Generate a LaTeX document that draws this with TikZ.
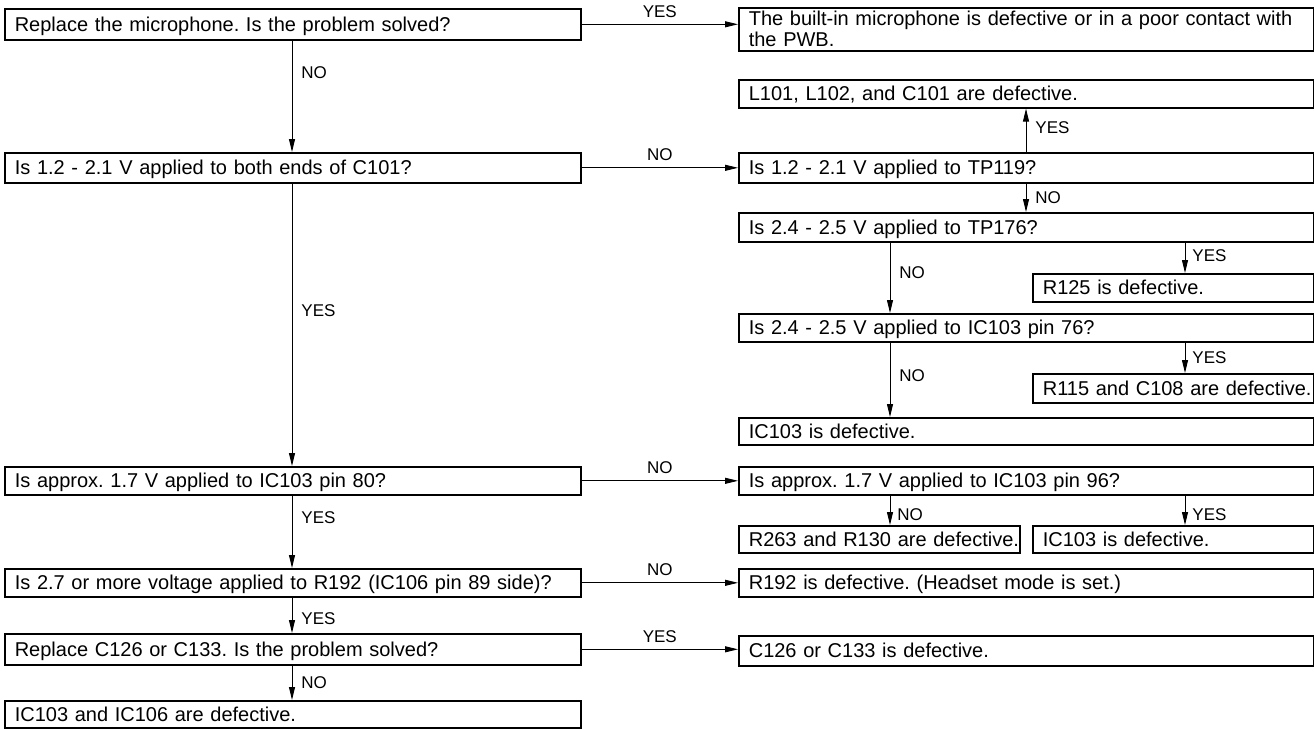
\documentclass[tikz,border=0pt]{standalone}
\usepackage{fontspec}
\setmainfont{Liberation Sans}
\usetikzlibrary{arrows.meta,calc}
\begin{document}
\frenchspacing
\begin{tikzpicture}[x=1pt,y=1pt,
  boxbase/.style={draw, line width=1.6pt, rectangle, anchor=north west, inner xsep=10pt, inner ysep=1pt, align=left, font=\fontsize{20}{21}\selectfont\frenchspacing},
  box/.style={boxbase, text height=14.3pt, text depth=0pt},
  arr/.style={line width=0.9pt, -{Triangle[length=13pt,width=6pt]}},
  lab/.style={font=\fontsize{17}{17}\selectfont, inner sep=0pt},
  vlab/.style={lab, anchor=west, xshift=9pt},
  hlab/.style={lab, midway, anchor=base, yshift=7pt},
]
\useasboundingbox (0,0) rectangle (1314,-728);

\coordinate (cL) at (292,0);
\coordinate (cR1) at (890,0);
\coordinate (cR2) at (1026,0);
\coordinate (cR3) at (1185,0);

% left column
\node[box, text width=556pt, minimum height=31pt] (q1) at (4,-8) {\mbox{Replace the microphone. Is the problem solved?}};
\node[box, text width=556pt, minimum height=30pt] (q2) at (4,-152) {\mbox{Is 1.2 - 2.1 V applied to both ends of C101?}};
\node[box, text width=556pt, minimum height=28pt] (q3) at (4,-466) {\mbox{Is approx. 1.7 V applied to IC103 pin 80?}};
\node[box, text width=556pt, minimum height=28pt] (q4) at (4,-568) {\mbox{Is 2.7 or more voltage applied to R192 (IC106 pin 89 side)?}};
\node[box, text width=556pt, minimum height=31pt] (q5) at (4,-633) {\mbox{Replace C126 or C133. Is the problem solved?}};
\node[box, text width=556pt, minimum height=27pt] (e6) at (4,-700) {\mbox{IC103 and IC106 are defective.}};

% right column
\node[boxbase, text width=555pt, minimum height=43pt] (r1) at (738,-7) {The built-in microphone is defective or in a poor contact with\\the PWB.};
\node[box, text width=555pt, minimum height=28pt] (r2) at (738,-79) {\mbox{L101, L102, and C101 are defective.}};
\node[box, text width=555pt, minimum height=30pt] (r3) at (738,-152) {\mbox{Is 1.2 - 2.1 V applied to TP119?}};
\node[box, text width=555pt, minimum height=29pt] (r4) at (738,-212) {\mbox{Is 2.4 - 2.5 V applied to TP176?}};
\node[box, text width=261pt, minimum height=28pt] (r5) at (1032,-273) {\mbox{R125 is defective.}};
\node[box, text width=555pt, minimum height=28pt] (r6) at (738,-313) {\mbox{Is 2.4 - 2.5 V applied to IC103 pin 76?}};
\node[box, text width=261pt, minimum height=29pt] (r7) at (1032,-373) {\mbox{R115 and C108 are defective.}};
\node[box, text width=555pt, minimum height=27pt] (r8) at (738,-417) {\mbox{IC103 is defective.}};
\node[box, text width=555pt, minimum height=28pt] (r9) at (738,-466) {\mbox{Is approx. 1.7 V applied to IC103 pin 96?}};
\node[box, text width=261pt, minimum height=27pt] (r10) at (738,-525) {\mbox{R263 and R130 are defective.}};
\node[box, text width=261pt, minimum height=27pt] (r11) at (1032,-525) {\mbox{IC103 is defective.}};
\node[box, text width=555pt, minimum height=28pt] (r12) at (738,-568) {\mbox{R192 is defective. (Headset mode is set.)}};
\node[box, text width=555pt, minimum height=30pt] (r13) at (738,-635) {\mbox{C126 or C133 is defective.}};

% horizontal connectors
\draw[arr] (q1.east) -- (q1.east -| r1.west) node[hlab] {YES};
\draw[arr] (q2.east) -- (q2.east -| r3.west) node[hlab] {NO};
\draw[arr] (q3.east) -- (q3.east -| r9.west) node[hlab] {NO};
\draw[arr] (q4.east) -- (q4.east -| r12.west) node[hlab] {NO};
\draw[arr] (q5.east) -- (q5.east -| r13.west) node[hlab] {YES};

% left vertical connectors
\draw[arr] (q1.south -| cL) -- (q2.north -| cL) node[vlab, pos=0.29] {NO};
\draw[arr] (q2.south -| cL) -- (q3.north -| cL) node[vlab, pos=0.45] {YES};
\draw[arr] (q3.south -| cL) -- (q4.north -| cL) node[vlab, pos=0.31] {YES};
\draw[arr] (q4.south -| cL) -- (q5.north -| cL) node[vlab, pos=0.6] {YES};
\draw[arr] (q5.south -| cL) -- (e6.north -| cL) node[vlab, pos=0.5] {NO};

% right vertical connectors
\draw[arr] (r3.north -| cR2) -- (r2.south -| cR2) node[vlab, pos=0.56] {YES};
\draw[arr] (r3.south -| cR2) -- (r4.north -| cR2) node[vlab, pos=0.5] {NO};
\draw[arr] (r4.south -| cR1) -- (r6.north -| cR1) node[vlab, pos=0.43] {NO};
\draw[arr] (r4.south -| cR3) -- (r5.north -| cR3) node[vlab, pos=0.44, xshift=-2pt] {YES};
\draw[arr] (r6.south -| cR1) -- (r8.north -| cR1) node[vlab, pos=0.45] {NO};
\draw[arr] (r6.south -| cR3) -- (r7.north -| cR3) node[vlab, pos=0.5, xshift=-2pt] {YES};
\draw[arr] (r9.south -| cR1) -- (r10.north -| cR1) node[vlab, pos=0.65, xshift=-2pt] {NO};
\draw[arr] (r9.south -| cR3) -- (r11.north -| cR3) node[vlab, pos=0.65, xshift=-2pt] {YES};
\end{tikzpicture}
\end{document}
